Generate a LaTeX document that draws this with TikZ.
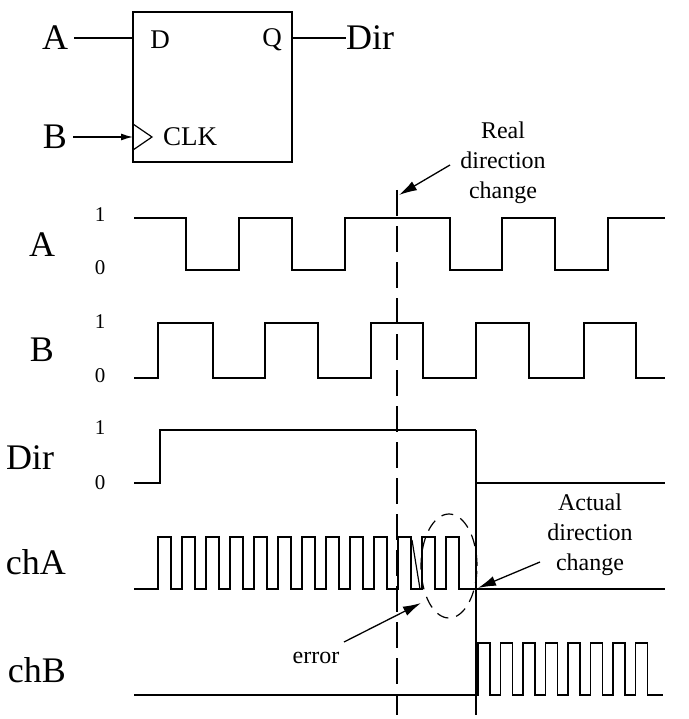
\documentclass[tikz,border=0pt]{standalone}
\usepackage{fontspec}
\setmainfont{Liberation Serif}
\usetikzlibrary{arrows.meta}
\begin{document}
\begin{tikzpicture}[x=1pt,y=-1pt,
  wave/.style={line width=1.6pt,line join=miter},
  big/.style={font=\fontsize{36}{38}\selectfont,inner sep=0pt},
  lvl/.style={font=\fontsize{21}{22}\selectfont,inner sep=0pt},
  small/.style={font=\fontsize{24}{30}\selectfont,inner sep=0pt,align=center},
  arr/.style={line width=1.3pt,-{Latex[length=18pt,width=10pt]}}]
\useasboundingbox (0,0) rectangle (688,719);
% flip-flop
\node[draw,line width=1.2pt,minimum width=159pt,minimum height=150pt,inner sep=0pt] (ff) at (212.5,87) {};
\node[small,font=\fontsize{27}{28}\selectfont] (d) at (160,40) {D};
\node[small,font=\fontsize{27}{28}\selectfont] (q) at (272,40) {Q};
\node[small,font=\fontsize{27}{28}\selectfont,anchor=west] (clk) at (163,137) {CLK};
\draw[line width=1.2pt] (133,124) -- (152,137) -- (133,150);
\node[big] (inA) at (55,38) {A};
\node[big] (inB) at (55,137) {B};
\node[big,anchor=west] (outD) at (346,38) {Dir};
\draw[line width=1.2pt] (inA.east)+(6,0) -- (133,38);
\draw[line width=1.3pt,-{Latex[length=12pt,width=7pt]}] (inB.east)+(6,0) -- (133,137);
\draw[line width=1.2pt] (292,38) -- (outD.west);
% labels
\node[big] (lA) at (42,245) {A};
\node[big] (lB) at (42,350) {B};
\node[big] (lD) at (30,458) {Dir};
\node[big,anchor=east] (lchA) at (66,562) {chA};
\node[big,anchor=east] (lchB) at (66,670) {chB};
\foreach \y/\t in {215/1,268/0,322/1,376/0,428/1,483/0} \node[lvl] at (100,\y) {\t};
% A
\draw[wave] (134,218) -| (186,270) -| (239,218) -| (292,270) -| (345,218) -| (450,270) -| (502,218) -| (555,270) -| (608,218) -- (665,218);
% B
\draw[wave] (134,378) -| (158,323) -| (213,378) -| (265,323) -| (318,378) -| (371,323) -| (423,378) -| (476,323) -| (529,378) -| (584,323) -| (636,378) -- (665,378);
% Dir
\draw[wave] (134,483) -| (160,430) -- (476,430);
\draw[line width=1.6pt] (476,483) -- (665,483);
% chA
\draw[line width=1.3pt] (134,589) \foreach \k in {0,...,12} { -- ({158+24*\k},589) -- ({158+24*\k},537) -- ({171+24*\k},537) -- ({171+24*\k},589) } -- (665,589);
\draw[line width=1.2pt] (412,540) -- (420,589);
% chB
\draw[line width=1.6pt] (134,695) \foreach \k in {0,...,7} { -- ({478+22.5*\k},695) -- ({478+22.5*\k},643) -- ({490+22.5*\k},643) -- ({490+22.5*\k},695) } -- (663,695);
% vertical lines
\draw[line width=1.6pt,dash pattern=on 26pt off 10pt] (397,190) -- (397,715);
\draw[line width=1.6pt] (476,430) -- (476,715);
\draw[line width=1.2pt,dash pattern=on 12pt off 8pt] (449,566) ellipse (28pt and 52pt);
% annotations
\node[small] (real) at (503,163) {Real\\direction\\change};
\draw[arr] (450,165) -- (399,195);
\node[small] (act) at (590,535) {Actual\\direction\\change};
\draw[arr] (540,562) -- (478,588);
\node[small] (err) at (316,658) {error};
\draw[arr] (344,642) -- (421,603);
\end{tikzpicture}
\end{document}
